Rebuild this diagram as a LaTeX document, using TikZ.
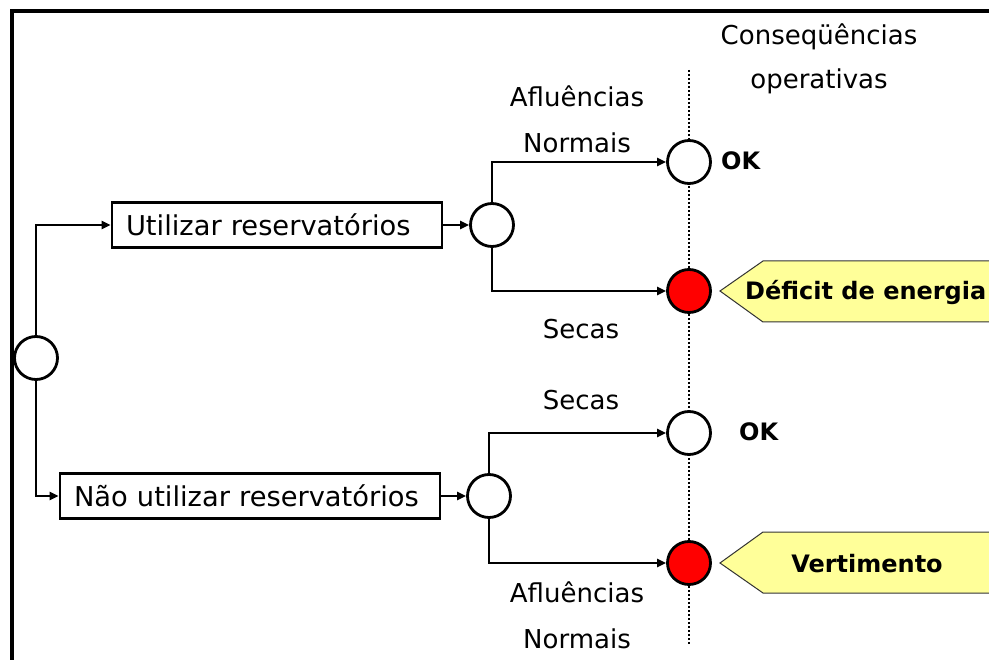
\documentclass[tikz,border=0pt]{standalone}
\usepackage{fontspec}
\setmainfont{DejaVu Sans}
\usetikzlibrary{arrows.meta}
\definecolor{calloutyellow}{HTML}{FFFF99}
\begin{document}
\begin{tikzpicture}[x=1pt,y=-1pt,
  chance/.style={circle,draw,line width=2.8pt,minimum size=43pt,inner sep=0pt,fill=white},
  badnode/.style={chance,fill=red},
  choice/.style={draw,line width=2.6pt,minimum height=45pt,inner xsep=14pt,inner ysep=0pt,
    align=left,font=\fontsize{27.3}{30}\selectfont},
  conn/.style={line width=2.8pt,-{Triangle[length=9pt,width=8pt]}},
  dotline/.style={line width=2.8pt,dash pattern=on 2pt off 2pt},
  lbl/.style={font=\fontsize{26}{30}\selectfont,anchor=base,inner sep=0pt},
  boldlbl/.style={font=\fontsize{24}{27}\selectfont\bfseries,anchor=base west,inner sep=0pt},
  callout/.style={fill=calloutyellow,draw=black!80,line width=1pt}
]
\useasboundingbox (0,0) rectangle (989,660);
\clip (0,0) rectangle (989,660);

% outer frame (top and left edges)
\draw[line width=4.5pt] (995,11) -- (12,11) -- (12,665);

% vertical line of operational consequences
\coordinate (vtop) at (689,70);
\coordinate (vbot) at (689,645);
\draw[dotline] (vtop) -- (vbot);

% decision node and alternatives
\node[chance] (root) at (36,358) {};
\node[choice,text width=302pt] (use) at (277,225) {Utilizar reservatórios};
\node[choice,text width=352pt] (nouse) at (250,496) {Não utilizar reservatórios};

% chance nodes
\node[chance] (c1) at (492,225) {};
\node[chance] (c2) at (489,496) {};

% outcomes
\node[chance] (ok1) at (689,162) {};
\node[badnode] (bad1) at (689,291) {};
\node[chance] (ok2) at (689,433) {};
\node[badnode] (bad2) at (689,563) {};

% connectors
\draw[conn] (root.north) |- (use.west);
\draw[conn] (root.south) |- (nouse.west);
\draw[conn] (use.east) -- (c1.west);
\draw[conn] (nouse.east) -- (c2.west);
\draw[conn] (c1.north) |- (ok1.west);
\draw[conn] (c1.south) |- (bad1.west);
\draw[conn] (c2.north) |- (ok2.west);
\draw[conn] (c2.south) |- (bad2.west);

% callouts
\path[callout] (720,291) -- (763,261) -- (1000,261) -- (1000,322) -- (763,322) -- cycle;
\path[callout] (720,563) -- (763,532) -- (1000,532) -- (1000,593) -- (763,593) -- cycle;

% labels
\node[lbl] (cons) at (819,45) {Conseqüências};
\node[lbl] (oper) at (819,89) {operativas};
\node[lbl] (afl1) at (577,107) {Afluências};
\node[lbl] (norm1) at (577,153) {Normais};
\node[lbl] (sec1) at (581,339) {Secas};
\node[lbl] (sec2) at (581,410) {Secas};
\node[lbl] (afl2) at (577,602) {Afluências};
\node[lbl] (norm2) at (577,648) {Normais};
\node[boldlbl] (ok1lbl) at (721,170) {OK};
\node[boldlbl] (ok2lbl) at (739,441) {OK};
\node[boldlbl] (deflbl) at (745,300) {Déficit de energia};
\node[boldlbl,anchor=base] (vertlbl) at (867,572) {Vertimento};
\end{tikzpicture}
\end{document}
